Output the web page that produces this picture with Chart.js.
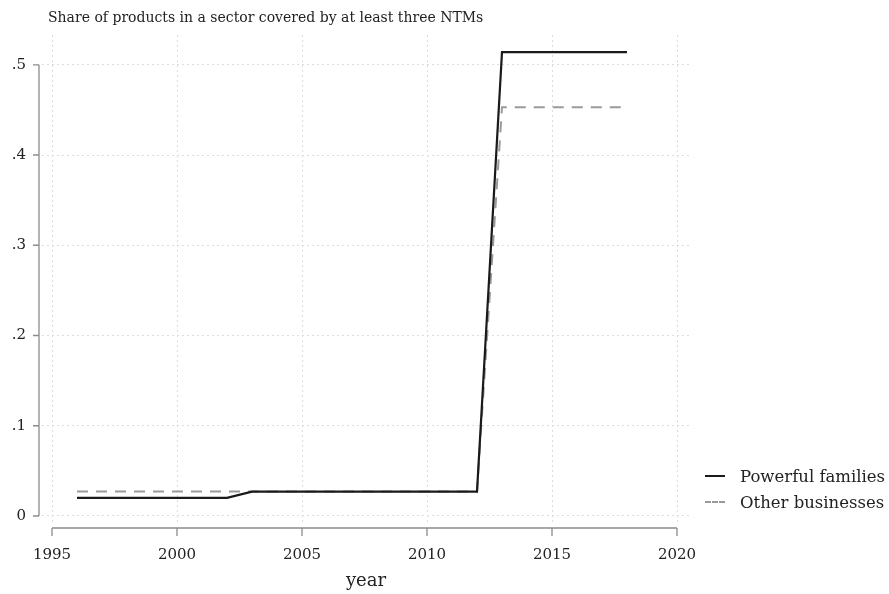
<!DOCTYPE html>
<html>
<head>
<meta charset="utf-8">
<script src="https://cdn.jsdelivr.net/npm/chart.js@4.4.1/dist/chart.umd.min.js"></script>
<style>
body{margin:0;background:#fff;}
#wrap{position:relative;width:889px;height:594px;}
#title{position:absolute;left:48px;top:9px;font-family:"DejaVu Serif";font-size:14px;color:#222;white-space:nowrap;}
#legend{position:absolute;left:705px;top:463px;font-family:"DejaVu Serif";font-size:16.5px;color:#222;}
.row{display:flex;align-items:center;height:26px;}
.swatch{width:20px;margin-right:15px;}
</style>
</head>
<body>
<div id="wrap">
<canvas id="myChart" width="889" height="594"></canvas>
<div id="title">Share of products in a sector covered by at least three NTMs</div>
<div id="legend">
  <div class="row"><span class="swatch" style="border-top:2px solid #1a1a1a"></span>Powerful families</div>
  <div class="row"><span class="swatch" style="border-top:2px dashed #9a9a9a"></span>Other businesses</div>
</div>
</div>
<script>
var years=[1996,1997,1998,1999,2000,2001,2002,2003,2004,2005,2006,2007,2008,2009,2010,2011,2012,2013,2014,2015,2016,2017,2018];
var powerful=[0.020,0.020,0.020,0.020,0.020,0.020,0.020,0.027,0.027,0.027,0.027,0.027,0.027,0.027,0.027,0.027,0.027,0.514,0.514,0.514,0.514,0.514,0.514];
var other=[0.027,0.027,0.027,0.027,0.027,0.027,0.027,0.027,0.027,0.027,0.027,0.027,0.027,0.027,0.027,0.027,0.027,0.453,0.453,0.453,0.453,0.453,0.453];
var xTicks=[1995,2000,2005,2010,2015,2020];
var yTicks=[0,0.1,0.2,0.3,0.4,0.5];

function pts(ys){
  return years.map(function(y,i){return {x:y,y:ys[i]};});
}

// stata style axes: line only over the tick range, set off from the plot
var stataAxes={
  id:"stataAxes",
  afterDraw:function(chart){
    var ctx=chart.ctx, a=chart.chartArea;
    var xs=chart.scales.x, ys=chart.scales.y;
    ctx.save();
    ctx.strokeStyle="#8c8c8c";
    ctx.lineWidth=1.3;
    var ax=a.left-3;
    ctx.beginPath();
    ctx.moveTo(ax,ys.getPixelForValue(yTicks[0]));
    ctx.lineTo(ax,ys.getPixelForValue(yTicks[yTicks.length-1]));
    yTicks.forEach(function(t){
      var p=ys.getPixelForValue(t);
      ctx.moveTo(ax,p);ctx.lineTo(ax-6,p);
    });
    var ay=a.bottom+3;
    ctx.moveTo(xs.getPixelForValue(xTicks[0]),ay);
    ctx.lineTo(xs.getPixelForValue(xTicks[xTicks.length-1]),ay);
    xTicks.forEach(function(t){
      var p=xs.getPixelForValue(t);
      ctx.moveTo(p,ay);ctx.lineTo(p,ay+8);
    });
    ctx.stroke();
    ctx.restore();
  }
};

var tickFont={family:"DejaVu Serif",size:15};

let myChart=document.getElementById("myChart").getContext("2d");
let lineChart=new Chart(myChart,{
  type:"line",
  data:{
    datasets:[{
      label:"Powerful families",
      data:pts(powerful),
      borderColor:"#1a1a1a",
      borderWidth:2.2,
      pointRadius:0,
      tension:0
    },{
      label:"Other businesses",
      data:pts(other),
      borderColor:"#9a9a9a",
      borderWidth:2,
      borderDash:[11,8],
      pointRadius:0,
      tension:0
    }]
  },
  plugins:[stataAxes],
  options:{
    responsive:false,
    animation:false,
    devicePixelRatio:1,
    layout:{padding:{left:0,top:35,right:199,bottom:0}},
    plugins:{legend:{display:false},title:{display:false},tooltip:{enabled:false}},
    scales:{
      x:{
        type:"linear",
        min:1994.6,
        max:2020.52,
        afterBuildTicks:function(s){s.ticks=xTicks.map(function(v){return {value:v};});},
        afterFit:function(s){s.height=69;},
        grid:{color:"#dcdcdc",drawTicks:false,lineWidth:1},
        border:{display:false,dash:[2,3]},
        ticks:{padding:21,color:"#222",font:tickFont,maxRotation:0,callback:function(v){return String(v);}},
        title:{display:true,text:"year",color:"#222",font:{family:"DejaVu Serif",size:18},padding:{bottom:2}}
      },
      y:{
        min:-0.01,
        max:0.533,
        afterBuildTicks:function(s){s.ticks=yTicks.map(function(v){return {value:v};});},
        afterFit:function(s){s.width=42;},
        grid:{color:"#dcdcdc",drawTicks:false,lineWidth:1},
        border:{display:false,dash:[2,3]},
        ticks:{padding:16,color:"#222",font:tickFont,callback:function(v){return v===0?"0":String(Math.round(v*10)/10).replace("0.",".");}}
      }
    }
  }
});
</script>
</body>
</html>
